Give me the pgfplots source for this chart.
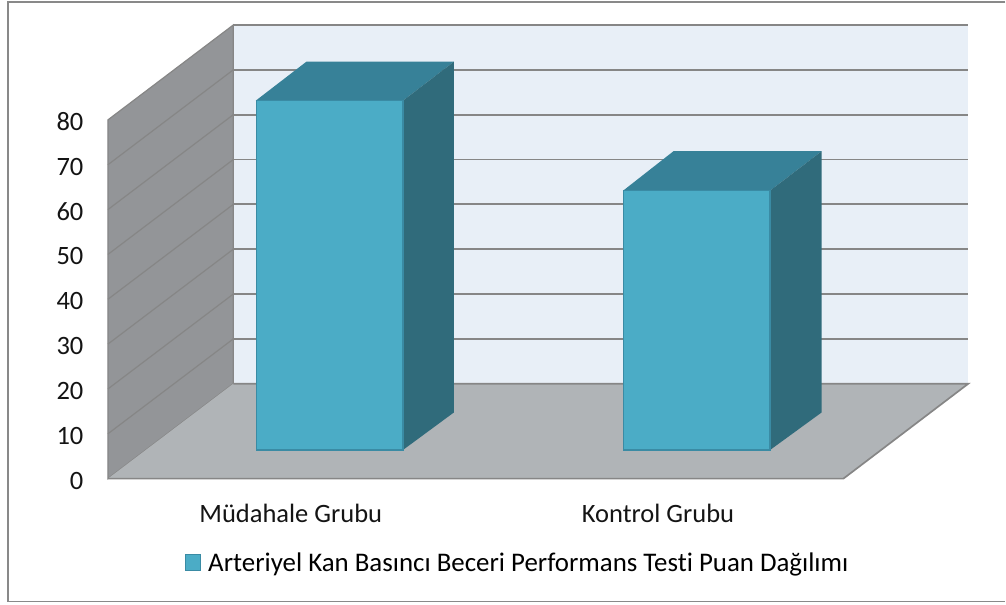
\documentclass[border=0pt]{standalone}
\usepackage{fontspec}
\setmainfont[Ligatures=NoCommon]{Carlito}
\usepackage{pgfplots}
\pgfplotsset{compat=1.18}
\definecolor{barfront}{HTML}{4BACC6}
\definecolor{bartop}{HTML}{378198}
\definecolor{barside}{HTML}{306B7B}
\definecolor{baredge}{HTML}{3A8BA4}
\definecolor{wallc}{HTML}{939598}
\definecolor{floorc}{HTML}{B0B4B7}
\definecolor{backc}{HTML}{E8EFF7}
\definecolor{gridc}{HTML}{868686}
\definecolor{framec}{HTML}{898989}
\begin{document}
\begin{tikzpicture}[x=1pt,y=1pt]
\begin{axis}[
  scale only axis, width=861pt, height=454.5pt,
  xmin=108, xmax=969, ymin=0, ymax=101.28,
  clip=false,
  unbounded coords=jump,
  axis line style={draw=none},
  major tick length=0pt,
  xtick={291,658.5},
  xticklabels={Müdahale Grubu,Kontrol Grubu},
  ytick={0,10,20,30,40,50,60,70,80},
  /pgf/number format/assume math mode=true,
  tick label style={font=\fontsize{26.5}{29}\selectfont, text=black!92},
  yticklabel style={anchor=east, xshift=-21pt, yshift=-2pt},
  xticklabel style={anchor=base, yshift=-44pt},
  legend style={at={(axis cs:185,-18.7)}, anchor=west, draw=none, fill=none,
    font=\fontsize{26.9}{30}\selectfont, inner sep=0pt, outer sep=0pt,
    legend cell align=left},
  legend image code/.code={
    \draw[#1] (0pt,-8pt) rectangle (15pt,8pt);
    \path (20pt,0pt);
  },
]
% page extent and outer frame
\path (axis cs:0,-28.08) rectangle (axis cs:1006,106.74);
\draw[framec, line width=1.5pt] (axis cs:1006,106.3) -- (axis cs:8,106.3) -- (axis cs:8,-27.4) -- (axis cs:1006,-27.4);
% back wall
\addplot[forget plot, fill=backc, draw=none] coordinates {(233.5,21.17) (969,21.17) (969,101.17) (233.5,101.17)} --cycle;
\addplot[forget plot, gridc, line width=1.7pt] coordinates {
  (233.5,31.17) (969,31.17) (969,nan)
  (233.5,41.17) (969,41.17) (969,nan)
  (233.5,51.17) (969,51.17) (969,nan)
  (233.5,61.17) (969,61.17) (969,nan)
  (233.5,71.17) (969,71.17) (969,nan)
  (233.5,81.17) (969,81.17) (969,nan)
  (233.5,91.17) (969,91.17) (969,nan)
  (233.5,101.17) (969,101.17)};
% side wall
\addplot[forget plot, fill=wallc, draw=gridc, line width=1.2pt] coordinates {(108,0) (233.5,21.17) (233.5,101.17) (108,80)} --cycle;
\addplot[forget plot, gridc, line width=1.2pt] coordinates {
  (108,10) (233.5,31.17) (233.5,nan)
  (108,20) (233.5,41.17) (233.5,nan)
  (108,30) (233.5,51.17) (233.5,nan)
  (108,40) (233.5,61.17) (233.5,nan)
  (108,50) (233.5,71.17) (233.5,nan)
  (108,60) (233.5,81.17) (233.5,nan)
  (108,70) (233.5,91.17)};
% floor
\addplot[forget plot, fill=floorc, draw=none] coordinates {(108,0) (233.5,21.17) (969,21.17) (844,0)} --cycle;
\addplot[forget plot, gridc, line width=1.7pt] coordinates {(233.5,21.17) (969,21.17) (844,0) (108,0)};
% bar 1: value 78
\addplot[forget plot, fill=bartop, draw=none] coordinates {(256,84.30) (306.7,92.99) (454.3,92.99) (403.3,84.30)} --cycle;
\addplot[forget plot, fill=barside, draw=none] coordinates {(403.3,6.40) (454.3,14.77) (454.3,92.99) (403.3,84.30)} --cycle;
\addplot[fill=barfront, draw=baredge, line width=1.4pt] coordinates {(256.4,6.40) (403.3,6.40) (403.3,84.30) (256.4,84.30)} --cycle;
\addlegendentry{Arteriyel Kan Basıncı Beceri Performans Testi Puan Dağılımı}
% bar 2: value 58
\addplot[forget plot, fill=bartop, draw=none] coordinates {(623.7,64.24) (674,73.02) (822.3,73.02) (770.7,64.24)} --cycle;
\addplot[forget plot, fill=barside, draw=none] coordinates {(770.7,6.40) (822.3,14.77) (822.3,73.02) (770.7,64.24)} --cycle;
\addplot[forget plot, fill=barfront, draw=baredge, line width=1.4pt] coordinates {(623.7,6.40) (770.7,6.40) (770.7,64.24) (623.7,64.24)} --cycle;
\end{axis}
\end{tikzpicture}
\end{document}
